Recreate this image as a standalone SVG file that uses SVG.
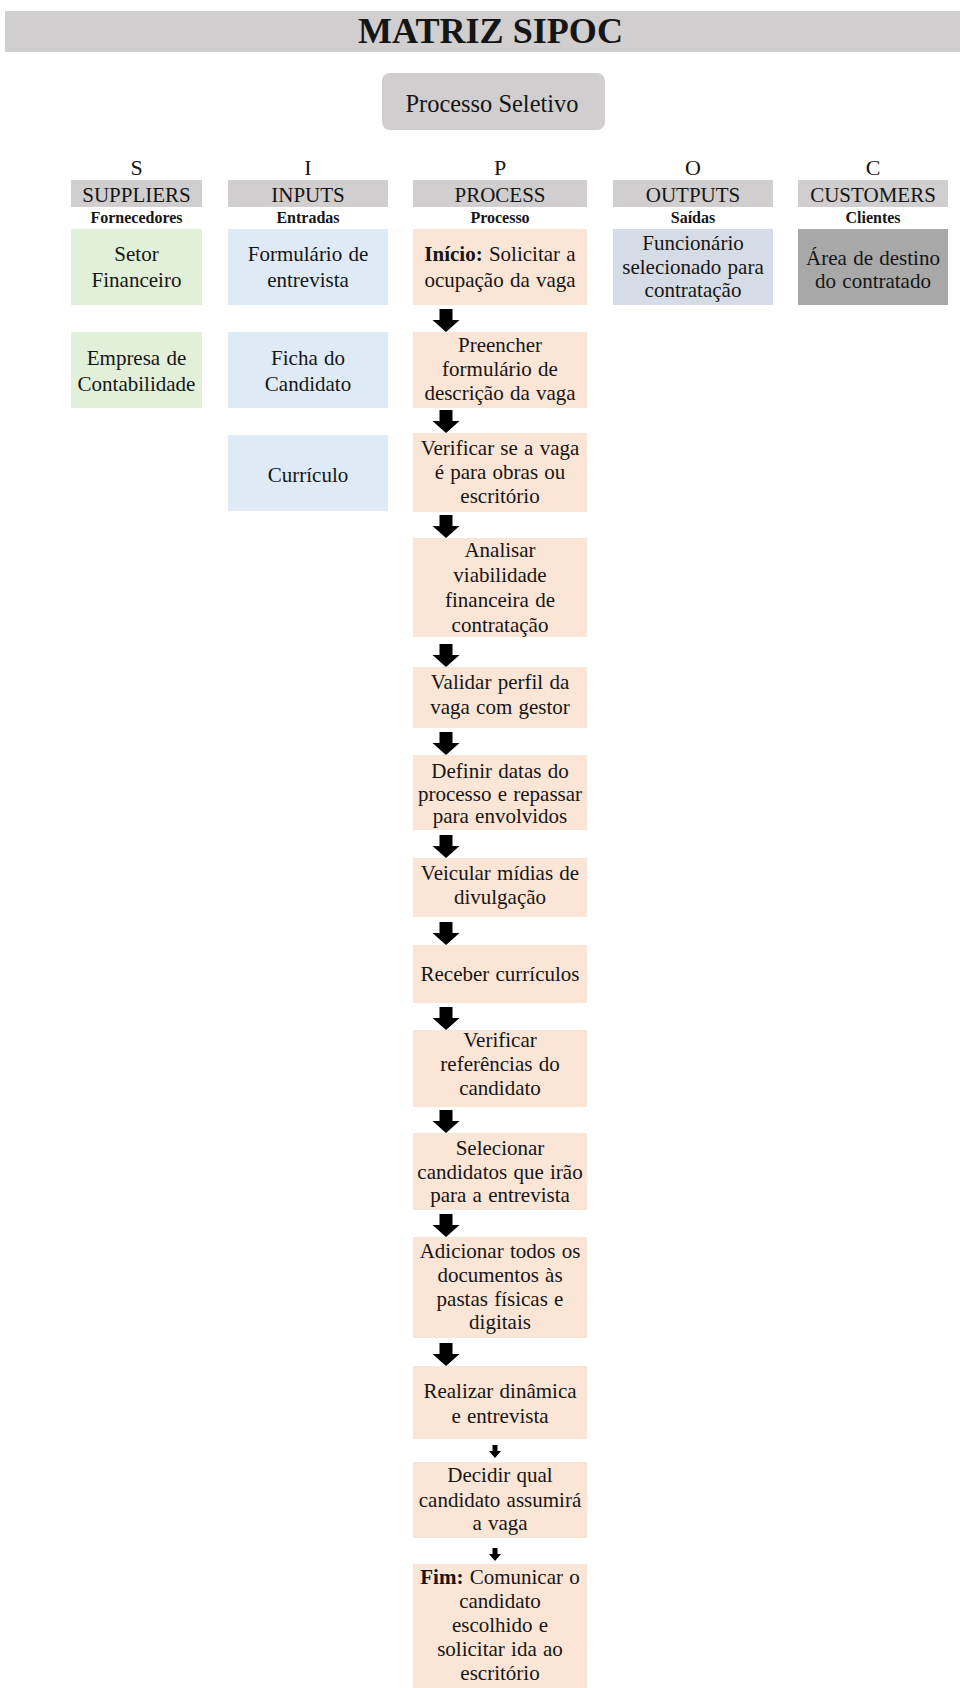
<svg xmlns="http://www.w3.org/2000/svg" xmlns:xlink="http://www.w3.org/1999/xlink" width="960" height="1688" viewBox="0 0 960 1688">
<style>
.t{font-family:"Liberation Serif","Times New Roman",serif;font-size:21px;fill:#151515;text-anchor:middle;word-spacing:1px}
.hd{font-size:21px;word-spacing:0}
.ltr{font-size:22px}
.sub{font-size:16px;font-weight:bold;word-spacing:0}
.b{font-weight:bold}
.gray{fill:#D0CECE}
.sup{fill:#E2F0D9}
.inp{fill:#DEEBF7}
.pro{fill:#FBE5D6}
.out{fill:#D6DCE5}
.cus{fill:#A8A8A8}
.arr{fill:#000}
</style>
<defs>
<path id="arrow" d="M-6.5 0 H6.5 V11 H13.5 L0 23 L-13.5 11 H-6.5 Z"/>
<path id="sarrow" d="M-2.5 0 H2.5 V6 H6 L0 13 L-6 6 H-2.5 Z"/>
</defs>
<rect width="960" height="1688" fill="#fff"/>

<g id="title">
<rect class="gray" x="5" y="11" width="955" height="41"/>
<text class="t b" x="490.5" y="43" style="font-size:35px;word-spacing:0" textLength="265" lengthAdjust="spacingAndGlyphs">MATRIZ SIPOC</text>
</g>

<g id="processo-seletivo">
<rect class="gray" x="382" y="73" width="223" height="57" rx="8"/>
<text class="t" x="492" y="112" style="font-size:25px;word-spacing:0" textLength="173" lengthAdjust="spacingAndGlyphs">Processo Seletivo</text>
</g>

<g id="header-S">
<text class="t ltr" x="136.5" y="175">S</text>
<rect class="gray" x="71" y="180" width="131" height="27"/>
<text class="t hd" x="136.5" y="202">SUPPLIERS</text>
<text class="t sub" x="136.5" y="223">Fornecedores</text>
</g>
<g id="header-I">
<text class="t ltr" x="308" y="175">I</text>
<rect class="gray" x="228" y="180" width="160" height="27"/>
<text class="t hd" x="308" y="202">INPUTS</text>
<text class="t sub" x="308" y="223">Entradas</text>
</g>
<g id="header-P">
<text class="t ltr" x="500" y="175">P</text>
<rect class="gray" x="413" y="180" width="174" height="27"/>
<text class="t hd" x="500" y="202">PROCESS</text>
<text class="t sub" x="500" y="223">Processo</text>
</g>
<g id="header-O">
<text class="t ltr" x="693" y="175">O</text>
<rect class="gray" x="613" y="180" width="160" height="27"/>
<text class="t hd" x="693" y="202">OUTPUTS</text>
<text class="t sub" x="693" y="223">Saídas</text>
</g>
<g id="header-C">
<text class="t ltr" x="873" y="175">C</text>
<rect class="gray" x="798" y="180" width="150" height="27"/>
<text class="t hd" x="873" y="202">CUSTOMERS</text>
<text class="t sub" x="873" y="223">Clientes</text>
</g>

<g id="s1">
<rect class="sup" x="71" y="229" width="131" height="76"/>
<text class="t" x="136.5" y="261">Setor</text>
<text class="t" x="136.5" y="287">Financeiro</text>
</g>
<g id="s2">
<rect class="sup" x="71" y="332" width="131" height="76"/>
<text class="t" x="136.5" y="365">Empresa de</text>
<text class="t" x="136.5" y="391">Contabilidade</text>
</g>

<g id="i1">
<rect class="inp" x="228" y="229" width="160" height="76"/>
<text class="t" x="308" y="261">Formulário de</text>
<text class="t" x="308" y="287">entrevista</text>
</g>
<g id="i2">
<rect class="inp" x="228" y="332" width="160" height="76"/>
<text class="t" x="308" y="365">Ficha do</text>
<text class="t" x="308" y="391">Candidato</text>
</g>
<g id="i3">
<rect class="inp" x="228" y="435" width="160" height="76"/>
<text class="t" x="308" y="482">Currículo</text>
</g>

<g id="o1">
<rect class="out" x="613" y="229" width="160" height="76"/>
<text class="t" x="693" y="250">Funcionário</text>
<text class="t" x="693" y="274">selecionado para</text>
<text class="t" x="693" y="297">contratação</text>
</g>

<g id="c1">
<rect class="cus" x="798" y="229" width="150" height="76"/>
<text class="t" x="873" y="265">Área de destino</text>
<text class="t" x="873" y="288">do contratado</text>
</g>

<g id="p1">
<rect class="pro" x="413" y="229" width="174" height="76"/>
<text class="t" x="500" y="261"><tspan class="b">Início:</tspan> Solicitar a</text>
<text class="t" x="500" y="287">ocupação da vaga</text>
</g>
<g id="p2">
<rect class="pro" x="413" y="332" width="174" height="76"/>
<text class="t" x="500" y="352">Preencher</text>
<text class="t" x="500" y="376">formulário de</text>
<text class="t" x="500" y="400">descrição da vaga</text>
</g>
<g id="p3">
<rect class="pro" x="413" y="433" width="174" height="79"/>
<text class="t" x="500" y="455">Verificar se a vaga</text>
<text class="t" x="500" y="479">é para obras ou</text>
<text class="t" x="500" y="503">escritório</text>
</g>
<g id="p4">
<rect class="pro" x="413" y="538" width="174" height="99"/>
<text class="t" x="500" y="557">Analisar</text>
<text class="t" x="500" y="582">viabilidade</text>
<text class="t" x="500" y="607">financeira de</text>
<text class="t" x="500" y="632">contratação</text>
</g>
<g id="p5">
<rect class="pro" x="413" y="667" width="174" height="61"/>
<text class="t" x="500" y="689">Validar perfil da</text>
<text class="t" x="500" y="714">vaga com gestor</text>
</g>
<g id="p6">
<rect class="pro" x="413" y="755" width="174" height="75"/>
<text class="t" x="500" y="778">Definir datas do</text>
<text class="t" x="500" y="801">processo e repassar</text>
<text class="t" x="500" y="823">para envolvidos</text>
</g>
<g id="p7">
<rect class="pro" x="413" y="858" width="174" height="59"/>
<text class="t" x="500" y="880">Veicular mídias de</text>
<text class="t" x="500" y="904">divulgação</text>
</g>
<g id="p8">
<rect class="pro" x="413" y="945" width="174" height="58"/>
<text class="t" x="500" y="981">Receber currículos</text>
</g>
<g id="p9">
<rect class="pro" x="413" y="1030" width="174" height="77"/>
<text class="t" x="500" y="1047">Verificar</text>
<text class="t" x="500" y="1071">referências do</text>
<text class="t" x="500" y="1095">candidato</text>
</g>
<g id="p10">
<rect class="pro" x="413" y="1133" width="174" height="77"/>
<text class="t" x="500" y="1155">Selecionar</text>
<text class="t" x="500" y="1179">candidatos que irão</text>
<text class="t" x="500" y="1202">para a entrevista</text>
</g>
<g id="p11">
<rect class="pro" x="413" y="1237" width="174" height="101"/>
<text class="t" x="500" y="1258">Adicionar todos os</text>
<text class="t" x="500" y="1282">documentos às</text>
<text class="t" x="500" y="1306">pastas físicas e</text>
<text class="t" x="500" y="1329">digitais</text>
</g>
<g id="p12">
<rect class="pro" x="413" y="1366" width="174" height="73"/>
<text class="t" x="500" y="1398">Realizar dinâmica</text>
<text class="t" x="500" y="1423">e entrevista</text>
</g>
<g id="p13">
<rect class="pro" x="413" y="1462" width="174" height="76"/>
<text class="t" x="500" y="1482">Decidir qual</text>
<text class="t" x="500" y="1507">candidato assumirá</text>
<text class="t" x="500" y="1530">a vaga</text>
</g>
<g id="p14">
<rect class="pro" x="413" y="1564" width="174" height="124"/>
<text class="t" x="500" y="1584"><tspan class="b">Fim:</tspan> Comunicar o</text>
<text class="t" x="500" y="1608">candidato</text>
<text class="t" x="500" y="1632">escolhido e</text>
<text class="t" x="500" y="1656">solicitar ida ao</text>
<text class="t" x="500" y="1680">escritório</text>
</g>

<g id="connectors" class="arr">
<use href="#arrow" x="446" y="309"/>
<use href="#arrow" x="446" y="410"/>
<use href="#arrow" x="446" y="515"/>
<use href="#arrow" x="446" y="644"/>
<use href="#arrow" x="446" y="732"/>
<use href="#arrow" x="446" y="835"/>
<use href="#arrow" x="446" y="922"/>
<use href="#arrow" x="446" y="1007"/>
<use href="#arrow" x="446" y="1110"/>
<use href="#arrow" x="446" y="1214"/>
<use href="#arrow" x="446" y="1343"/>
<use href="#sarrow" x="495" y="1445"/>
<use href="#sarrow" x="495" y="1548"/>
</g>
</svg>
